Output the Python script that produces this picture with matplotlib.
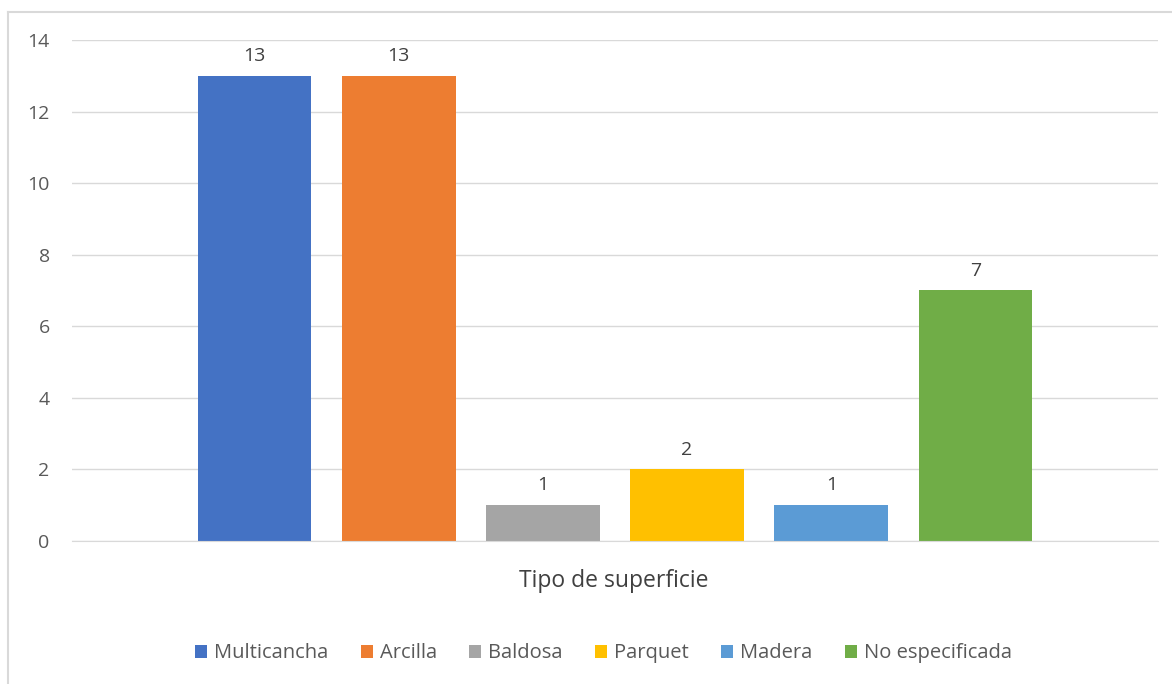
import matplotlib.pyplot as plt
from matplotlib.patches import Patch
from matplotlib.lines import Line2D
import numpy as np

# datos del gráfico
series = ['Multicancha', 'Arcilla', 'Baldosa', 'Parquet', 'Madera', 'No especificada']
valores = [13, 13, 1, 2, 1, 7]
colores = ['#4472C4', '#ED7D31', '#A5A5A5', '#FFC000', '#5B9BD5', '#70AD47']
categoria = 'Tipo de superficie'
yticks = [0, 2, 4, 6, 8, 10, 12, 14]

plt.rcParams['font.family'] = ['Open Sans', 'DejaVu Sans']

fig = plt.figure(figsize=(11.72, 6.84), dpi=100)
ax = fig.add_axes([0.0614, 0.2091, 0.9266, 0.7324])

x = np.arange(len(series))
barras = ax.bar(x, valores, width=0.789, color=colores, zorder=3)
for b, v in zip(barras, valores):
    ax.text(b.get_x() + b.get_width() / 2, v + 0.3, str(v),
            ha='center', va='bottom', fontsize=14, color='#404040')

ax.set_xlim(-1.265, 6.265)
ax.set_ylim(0, 14)
ax.set_yticks(yticks)
ax.set_xticks([])
ax.tick_params(axis='y', length=0, labelsize=14, labelcolor='#595959', pad=16)
ax.grid(axis='y', color='#D9D9D9', linewidth=1, zorder=0)
for s in ['top', 'right', 'left']:
    ax.spines[s].set_visible(False)
ax.spines['bottom'].set_color('#D9D9D9')
ax.spines['bottom'].set_zorder(4)

fig.text(0.524, 0.151, categoria, ha='center', va='center', fontsize=16.5, color='#404040')

handles = [Patch(facecolor=c) for c in colores]
fig.legend(handles, series, loc='center', bbox_to_anchor=(0.515, 0.045), ncol=6,
           frameon=False, fontsize=14.5, handlelength=0.6, handleheight=0.6,
           handletextpad=0.35, columnspacing=1.6, labelcolor='#595959')

# borde del área del gráfico (recortado a derecha y abajo)
fig.add_artist(Line2D([8 / 1172, 8 / 1172], [0, 1 - 12 / 684], transform=fig.transFigure,
                      color='#D9D9D9', linewidth=1.5))
fig.add_artist(Line2D([8 / 1172, 1], [1 - 12 / 684, 1 - 12 / 684], transform=fig.transFigure,
                      color='#D9D9D9', linewidth=1.5))

fig.savefig('out.png', dpi=100)
